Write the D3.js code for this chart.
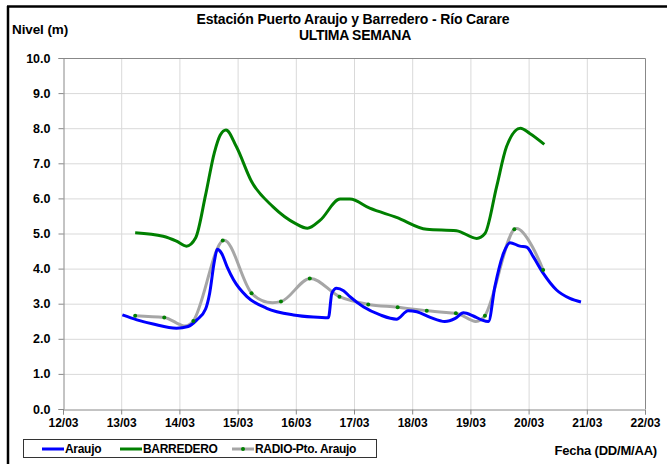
<!DOCTYPE html>
<html><head><meta charset="utf-8">
<script src="https://cdn.jsdelivr.net/npm/d3@7/dist/d3.min.js"></script>
<style>body{margin:0;background:#fff}svg{display:block;font-family:"Liberation Sans",Arial,sans-serif}</style>
</head><body>
<script>
// Day-of-month (fractional) for March, and levels in metres
const araujoDays = [13.02,13.27,13.55,13.95,14.15,14.30,14.45,14.52,14.60,14.65,14.72,14.82,14.93,15.16,15.50,15.96,16.30,16.56,16.62,16.70,16.82,16.93,17.16,17.45,17.73,17.93,18.08,18.31,18.56,18.74,18.88,19.05,19.19,19.31,19.42,19.57,19.68,19.85,19.97,20.08,20.25,20.48,20.71,20.90];
const araujoValues = [2.68,2.54,2.42,2.30,2.35,2.54,2.85,3.30,4.20,4.55,4.45,4.05,3.68,3.20,2.87,2.68,2.62,2.60,3.30,3.44,3.37,3.20,2.91,2.68,2.56,2.80,2.77,2.61,2.49,2.58,2.74,2.65,2.54,2.49,3.48,4.44,4.74,4.64,4.61,4.34,3.87,3.39,3.15,3.05];
const barrederoDays = [13.24,13.72,13.95,14.12,14.28,14.45,14.60,14.70,14.80,14.98,15.24,15.61,15.99,16.20,16.42,16.76,16.93,17.27,17.73,18.25,18.76,19.11,19.25,19.45,19.62,19.86,20.02,20.27];
const barrederoValues = [5.02,4.92,4.78,4.64,4.88,6.10,7.30,7.80,7.95,7.47,6.48,5.76,5.29,5.15,5.38,5.98,5.98,5.72,5.46,5.12,5.08,4.86,5.00,6.33,7.47,8.00,7.85,7.54];
const radioDays = [13.24,13.74,14.24,14.745,15.24,15.745,16.24,16.75,17.245,17.75,18.25,18.75,19.25,19.755,20.25];
const radioValues = [2.66,2.61,2.51,4.80,3.30,3.06,3.72,3.20,2.98,2.90,2.80,2.73,2.66,5.12,3.96];
const xTickDays = [12,13,14,15,16,17,18,19,20,21,22];
const xTickLabels = ["12/03","13/03","14/03","15/03","16/03","17/03","18/03","19/03","20/03","21/03","22/03"];
const yTicks = [0,1,2,3,4,5,6,7,8,9,10];
const seriesNames = ["Araujo","BARREDERO","RADIO-Pto. Araujo"];

const W = 667, H = 464;
const m = {left:63, right:645, top:58, bottom:409};
const svg = d3.select("body").append("svg").attr("width",W).attr("height",H);

const x = d3.scaleLinear().domain([12,22]).range([m.left,m.right]);
const y = d3.scaleLinear().domain([0,10]).range([m.bottom,m.top]);

// outer frame (top and left only visible)
svg.append("line").attr("x1",7).attr("x2",W).attr("y1",6.5).attr("y2",6.5).attr("stroke","#000").attr("stroke-width",2.5);
svg.append("line").attr("x1",8).attr("x2",8).attr("y1",6).attr("y2",H).attr("stroke","#000").attr("stroke-width",2.5);

// gridlines
svg.append("g").selectAll("line").data(yTicks.slice(1)).join("line")
  .attr("x1",m.left).attr("x2",m.right).attr("y1",d=>y(d)+0.5).attr("y2",d=>y(d)+0.5)
  .attr("stroke","#d9d9d9").attr("stroke-width",1);
svg.append("g").selectAll("line").data(xTickDays.slice(1,-1)).join("line")
  .attr("x1",d=>x(d)+0.5).attr("x2",d=>x(d)+0.5).attr("y1",m.top).attr("y2",m.bottom)
  .attr("stroke","#d9d9d9").attr("stroke-width",1);
// plot border top/right
svg.append("path").attr("d",`M${m.left},${m.top+0.5}H${m.right+0.5}V${m.bottom}`).attr("fill","none").attr("stroke","#888").attr("stroke-width",1);

// axes
const yAxis = svg.append("g").attr("transform",`translate(${m.left+0.5},0)`)
  .call(d3.axisLeft(y).tickValues(yTicks).tickFormat(d3.format(".1f")).tickSize(5).tickPadding(8));
const xAxis = svg.append("g").attr("transform",`translate(0,${m.bottom+0.5})`)
  .call(d3.axisBottom(x).tickValues(xTickDays).tickFormat((d,i)=>xTickLabels[i]).tickSize(5).tickPadding(4));
[yAxis,xAxis].forEach(g=>{
  g.select(".domain").attr("stroke","#888");
  g.selectAll(".tick line").attr("stroke","#888");
  g.selectAll("text").attr("font-family","Liberation Sans, Arial, sans-serif").attr("font-weight","bold").attr("fill","#000");
});
yAxis.selectAll("text").attr("font-size","12.5px");
xAxis.selectAll("text").attr("font-size","12px");

// series
const mk = (days, vals) => days.map((d,i)=>[d, vals[i]]);
const araujo = mk(araujoDays, araujoValues);
const barr = mk(barrederoDays, barrederoValues);
const radio = mk(radioDays, radioValues);

svg.append("path").datum(barr).attr("fill","none").attr("stroke","#008000").attr("stroke-width",3)
  .attr("stroke-linejoin","round")
  .attr("d", d3.line().x(d=>x(d[0])).y(d=>y(d[1])).curve(d3.curveMonotoneX));
svg.append("path").datum(radio).attr("fill","none").attr("stroke","#a6a6a6").attr("stroke-width",3)
  .attr("stroke-linejoin","round")
  .attr("d", d3.line().x(d=>x(d[0])).y(d=>y(d[1])).curve(d3.curveCardinal.tension(0)));
svg.append("path").datum(araujo).attr("fill","none").attr("stroke","#0000ff").attr("stroke-width",3)
  .attr("stroke-linejoin","round")
  .attr("d", d3.line().x(d=>x(d[0])).y(d=>y(d[1])).curve(d3.curveMonotoneX));
svg.append("g").selectAll("circle").data(radio).join("circle")
  .attr("cx",d=>x(d[0])).attr("cy",d=>y(d[1])).attr("r",2).attr("fill","#008000");

// titles
const t = svg.append("g").attr("font-weight","bold").attr("fill","#000");
t.append("text").attr("x",353).attr("y",24).attr("font-size","14px").attr("text-anchor","middle").attr("letter-spacing","-0.15px").text("Estación Puerto Araujo y Barredero - Río Carare");
t.append("text").attr("x",355).attr("y",40).attr("font-size","14px").attr("text-anchor","middle").attr("letter-spacing","-0.3px").text("ULTIMA SEMANA");
t.append("text").attr("x",12).attr("y",34).attr("font-size","13.5px").attr("letter-spacing","-0.1px").text("Nivel (m)");
t.append("text").attr("x",657).attr("y",455).attr("font-size","13px").attr("text-anchor","end").attr("letter-spacing","-0.2px").text("Fecha (DD/M/AA)");

// legend
const lg = svg.append("g");
lg.append("rect").attr("x",23.5).attr("y",439.5).attr("width",353).attr("height",18).attr("fill","#fff").attr("stroke","#333").attr("stroke-width",1);
const legItems = [
  {name:seriesNames[0], color:"#0000ff", x0:42, marker:false},
  {name:seriesNames[1], color:"#008000", x0:120, marker:false},
  {name:seriesNames[2], color:"#a6a6a6", x0:232, marker:true}
];
legItems.forEach(it=>{
  lg.append("line").attr("x1",it.x0).attr("x2",it.x0+22).attr("y1",449).attr("y2",449).attr("stroke",it.color).attr("stroke-width",3);
  if(it.marker) lg.append("circle").attr("cx",it.x0+11).attr("cy",449).attr("r",2).attr("fill","#008000");
  lg.append("text").attr("x",it.x0+23).attr("y",453).attr("font-weight","bold").attr("font-size","12px").attr("letter-spacing","-0.3px").text(it.name);
});
</script>
</body></html>
